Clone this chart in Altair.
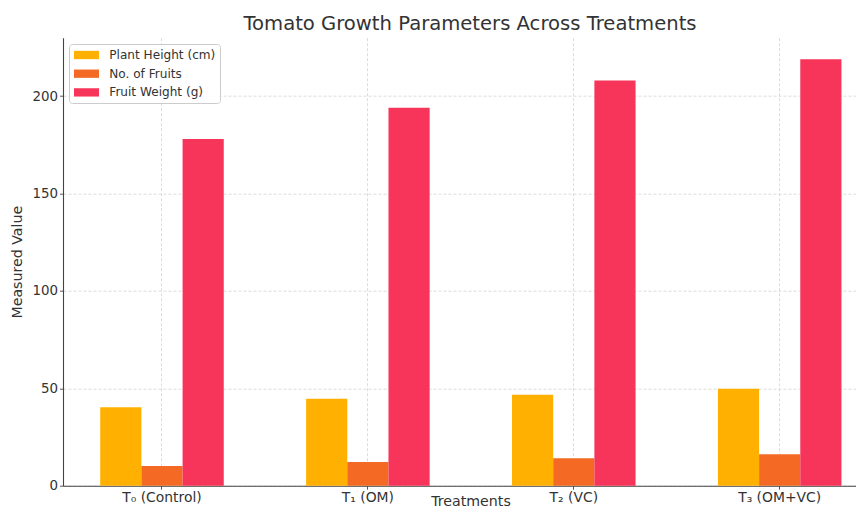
import altair as alt
import pandas as pd

treatments = ["T₀ (Control)", "T₁ (OM)", "T₂ (VC)", "T₃ (OM+VC)"]
parameters = ["Plant Height (cm)", "No. of Fruits", "Fruit Weight (g)"]
plant_height = [40.3, 44.6, 46.7, 49.8]
num_fruits = [10.1, 12.2, 14.1, 16.1]
fruit_weight = [178.0, 194.0, 208.0, 219.0]
colors = ["#FFB000", "#F46A25", "#F7345A"]
y_ticks = [0, 50, 100, 150, 200]

rows = []
for name, vals in zip(parameters, [plant_height, num_fruits, fruit_weight]):
    for t, v in zip(treatments, vals):
        rows.append({"Treatment": t, "Parameter": name, "Value": v})
df = pd.DataFrame(rows)

FONT = "DejaVu Sans"
TXT = "#333333"
AX = "#444444"

chart = alt.Chart(df).mark_bar().encode(
    x=alt.X(
        "Treatment:N",
        sort=treatments,
        scale=alt.Scale(paddingInner=0.4, paddingOuter=0.1257, align=0.719),
        axis=alt.Axis(
            title="Treatments", labelAngle=0, labelFontSize=13.9, labelColor=TXT,
            labelPadding=1, tickSize=3.5, tickColor=AX, tickWidth=0.9,
            domainColor=AX, domainWidth=1.1,
            grid=True, gridColor="#d3d3d3", gridDash=[3, 2], gridWidth=0.8,
            titleFontSize=14.2, titleFontWeight="normal", titleColor=TXT,
            titleBaseline="alphabetic", titleAlign="center", titleX=407.5, titleY=20,
        ),
    ),
    xOffset=alt.XOffset("Parameter:N", sort=parameters,
                        scale=alt.Scale(paddingInner=0, paddingOuter=0)),
    y=alt.Y(
        "Value:Q",
        scale=alt.Scale(domain=[0, 230], nice=False),
        axis=alt.Axis(
            title="Measured Value", values=y_ticks, labelFontSize=13.4, labelColor=TXT,
            labelPadding=2, tickSize=3.5, tickColor=AX, tickWidth=0.9,
            domainColor=AX, domainWidth=1.1,
            grid=True, gridColor="#d3d3d3", gridDash=[3, 2], gridWidth=0.8,
            titleFontSize=14.2, titleFontWeight="normal", titleColor=TXT,
            titleAngle=270, titleX=-46, titleY=224, titleAlign="center",
            titleBaseline="middle",
        ),
    ),
    color=alt.Color(
        "Parameter:N",
        sort=parameters,
        scale=alt.Scale(domain=parameters, range=colors),
        legend=alt.Legend(
            title=None, orient="none", legendX=6, legendY=6.3,
            fillColor="rgba(255,255,255,0.85)", strokeColor="#cccccc", cornerRadius=3,
            padding=4, labelFontSize=12.1, labelColor=TXT,
            symbolType="M-1.786,-0.593H1.786V0.593H-1.786Z", symbolSize=196,
            symbolStrokeWidth=0, symbolOffset=6.5, labelOffset=15.8,
            rowPadding=4.7,
        ),
    ),
).properties(
    width=793,
    height=448,
    title=alt.TitleParams(
        text="Tomato Growth Parameters Across Treatments", fontSize=19.6,
        fontWeight="normal", color=TXT, anchor="middle", offset=7,
        baseline="alphabetic", frame="group", dx=10.5, dy=18.7,
    ),
    autosize=alt.AutoSizeParams(type="none"),
    padding={"left": 55, "top": 29.7, "right": 0, "bottom": 25.3},
).configure(font=FONT).configure_view(stroke=None)

chart.save("out.html", embed_options={"renderer": "svg", "actions": False})
